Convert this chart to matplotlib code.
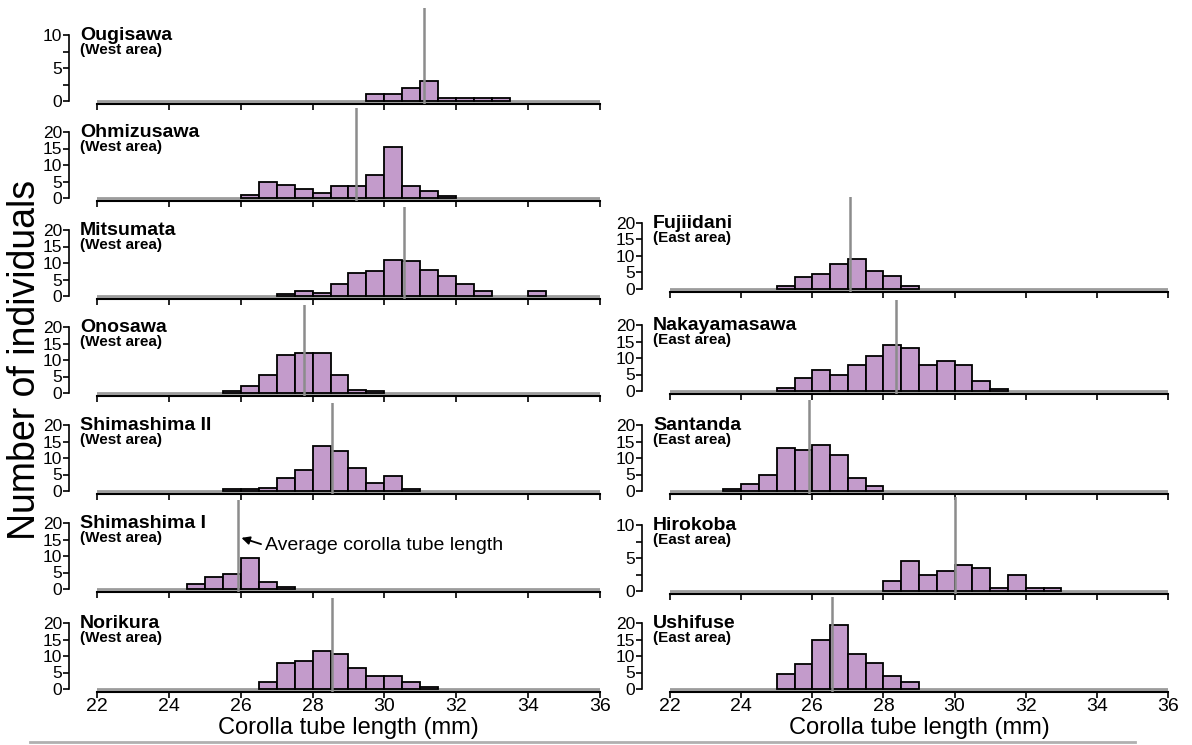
import numpy as np
import matplotlib
matplotlib.use("Agg")
import matplotlib.pyplot as plt
from matplotlib.lines import Line2D

plt.rcParams['font.family'] = ['Liberation Sans', 'DejaVu Sans']

# ---------------- data (bin width 0.5 mm; start = left edge of first bin) ----------------
bin_width = 0.5
x_ticks = [22, 24, 26, 28, 30, 32, 34, 36]

ougisawa_start = 29.5
ougisawa_counts = [1, 1, 2, 3, 0.5, 0.5, 0.5, 0.5]
ougisawa_mean = 31.1

ohmizusawa_start = 26.0
ohmizusawa_counts = [1, 5, 4, 2.7, 1.5, 3.5, 3.5, 7, 15.5, 3.5, 2, 0.6]
ohmizusawa_mean = 29.2

mitsumata_start = 27.0
mitsumata_counts = [0.5, 1.5, 1, 3.5, 7, 7.5, 11, 10.5, 8, 6, 3.5, 1.5, 0, 0, 1.5]
mitsumata_mean = 30.55

onosawa_start = 25.5
onosawa_counts = [0.5, 2, 5.5, 11.5, 12, 12, 5.5, 1, 0.5]
onosawa_mean = 27.75

shimashima2_start = 25.5
shimashima2_counts = [0.5, 0.5, 1, 4, 6.5, 13.5, 12, 7, 2.5, 4.5, 0.5]
shimashima2_mean = 28.55

shimashima1_start = 24.5
shimashima1_counts = [1.5, 3.5, 4.5, 9.5, 2, 0.5]
shimashima1_mean = 25.92

norikura_start = 26.5
norikura_counts = [2, 8, 8.5, 11.5, 10.5, 6.5, 4, 4, 2, 0.5]
norikura_mean = 28.55

fujiidani_start = 25.0
fujiidani_counts = [1, 3.5, 4.5, 7.5, 9, 5.5, 4, 1]
fujiidani_mean = 27.05

nakayamasawa_start = 25.0
nakayamasawa_counts = [1, 4, 6.5, 5, 8, 10.5, 14, 13, 8, 9, 8, 3, 0.5]
nakayamasawa_mean = 28.35

santanda_start = 23.5
santanda_counts = [0.5, 2, 5, 13, 12.5, 14, 11, 4, 1.5]
santanda_mean = 25.9

hirokoba_start = 28.0
hirokoba_counts = [1.5, 4.5, 2.5, 3, 4, 3.5, 0.5, 2.5, 0.5, 0.5]
hirokoba_mean = 30.0

ushifuse_start = 25.0
ushifuse_counts = [4.5, 7.5, 15, 19.5, 10.5, 8, 4, 2]
ushifuse_mean = 26.55

# ---------------- layout ----------------
W, H = 1192, 745
fig = plt.figure(figsize=(W / 100, H / 100), dpi=100)

BAR_COLOR = '#c39bcb'
MEAN_COLOR = '#8c8c8c'
BASE_COLOR = '#9c9c9c'
SPAN = 66  # pixels from 0 to top y tick


def add_panel(xl, xr, y0, yT, ytop, name, area, start, counts, mean, labels=False):
    ppu = SPAN / ytop
    ax = fig.add_axes([xl / W, (H - (y0 + 3)) / H, (xr - xl) / W, (y0 + 3 - yT) / H])
    ax.set_xlim(22, 36)
    ax.set_ylim(-3 / ppu, (y0 - yT) / ppu)
    counts = np.asarray(counts, dtype=float)
    lefts = start + bin_width * np.arange(len(counts))
    keep = counts > 0
    ax.axhline(0, color=BASE_COLOR, lw=2, zorder=1)
    ax.bar(lefts[keep], counts[keep], width=bin_width, align='edge', color=BAR_COLOR,
           edgecolor='black', linewidth=1.3, zorder=2)
    ax.axvline(mean, color=MEAN_COLOR, lw=1.8, zorder=3)
    for s in ('top', 'right'):
        ax.spines[s].set_visible(False)
    ax.spines['left'].set_position(('outward', 20))
    ax.spines['left'].set_bounds(0, ytop)
    ax.spines['left'].set_linewidth(1.2)
    ax.spines['bottom'].set_linewidth(1.5)
    ax.set_yticks(np.arange(0, ytop + 1, 5))
    if ytop == 10:
        ax.set_yticks([2.5, 7.5], minor=True)
    ax.set_xticks(x_ticks)
    ax.tick_params(axis='y', which='both', direction='out', length=4, width=1.2,
                   labelsize=12.5, pad=1)
    ax.tick_params(axis='x', direction='out', length=4, width=1.2, labelsize=14, pad=0.5,
                   labelbottom=labels)
    ax.patch.set_alpha(0)
    # labels
    ty = y0 - SPAN
    fig.text((xl - 17) / W, 1 - (ty + 5) / H, name, fontsize=14, fontweight='bold',
             ha='left', va='baseline')
    fig.text((xl - 17) / W, 1 - (ty + 19) / H, area, fontsize=11, fontweight='bold',
             ha='left', va='baseline')
    if labels:
        fig.text((xl + xr) / 2 / W, 1 - 734 / H, 'Corolla tube length (mm)', fontsize=17,
                 ha='center', va='baseline')
    return ax


LX0, LX1 = 97, 600
RX0, RX1 = 670, 1168

add_panel(LX0, LX1, 101, 8, 10, 'Ougisawa', '(West area)', ougisawa_start, ougisawa_counts, ougisawa_mean)
add_panel(LX0, LX1, 198, 108, 20, 'Ohmizusawa', '(West area)', ohmizusawa_start, ohmizusawa_counts, ohmizusawa_mean)
add_panel(LX0, LX1, 296, 207, 20, 'Mitsumata', '(West area)', mitsumata_start, mitsumata_counts, mitsumata_mean)
add_panel(LX0, LX1, 393, 305, 20, 'Onosawa', '(West area)', onosawa_start, onosawa_counts, onosawa_mean)
add_panel(LX0, LX1, 491, 403, 20, 'Shimashima II', '(West area)', shimashima2_start, shimashima2_counts, shimashima2_mean)
ax_s1 = add_panel(LX0, LX1, 589, 500, 20, 'Shimashima I', '(West area)', shimashima1_start, shimashima1_counts, shimashima1_mean)
add_panel(LX0, LX1, 689, 598, 20, 'Norikura', '(West area)', norikura_start, norikura_counts, norikura_mean, labels=True)

add_panel(RX0, RX1, 289, 197, 20, 'Fujiidani', '(East area)', fujiidani_start, fujiidani_counts, fujiidani_mean)
add_panel(RX0, RX1, 391, 300, 20, 'Nakayamasawa', '(East area)', nakayamasawa_start, nakayamasawa_counts, nakayamasawa_mean)
add_panel(RX0, RX1, 491, 400, 20, 'Santanda', '(East area)', santanda_start, santanda_counts, santanda_mean)
add_panel(RX0, RX1, 591, 497, 10, 'Hirokoba', '(East area)', hirokoba_start, hirokoba_counts, hirokoba_mean)
add_panel(RX0, RX1, 689, 597, 20, 'Ushifuse', '(East area)', ushifuse_start, ushifuse_counts, ushifuse_mean, labels=True)

ax_s1.annotate('Average corolla tube length', xy=(shimashima1_mean + 0.1, 15.5),
               xytext=(26.68, 13.2), fontsize=14, ha='left', va='center',
               arrowprops=dict(arrowstyle='-|>', color='black', lw=1.3,
                               mutation_scale=12, shrinkA=1, shrinkB=0,
                               relpos=(0, 0.5)))

fig.text(25 / W, 1 - 360 / H, 'Number of individuals', rotation=90, fontsize=27,
         ha='center', va='center')

fig.add_artist(Line2D([30 / W, 1135 / W], [1 - 742 / H, 1 - 742 / H],
                      color='#b0b0b0', lw=2, transform=fig.transFigure))

fig.savefig('out.png', dpi=100)
